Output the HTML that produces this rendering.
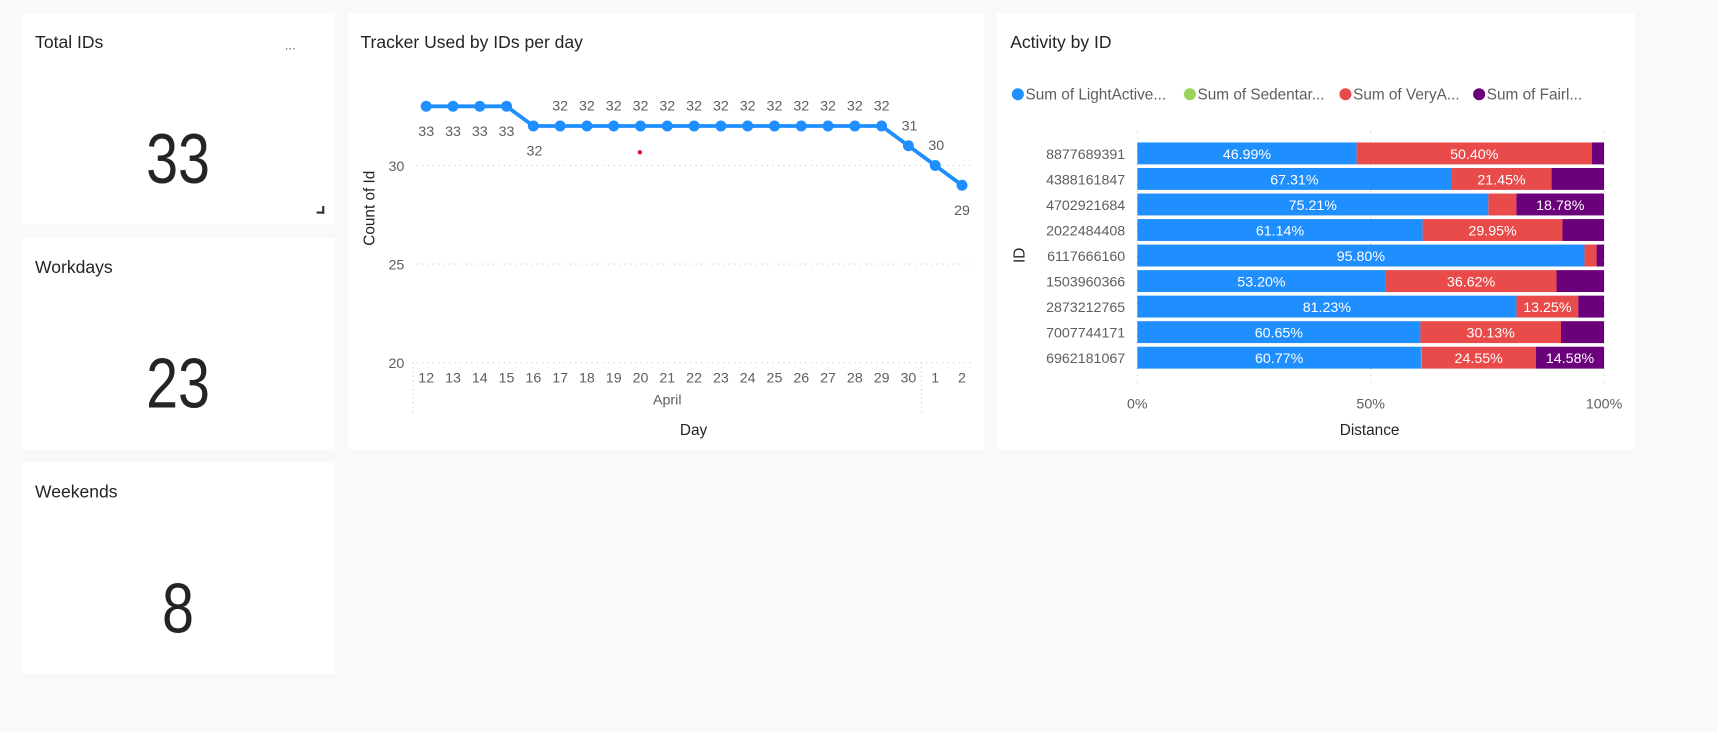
<!DOCTYPE html>
<html><head><meta charset="utf-8">
<style>
html,body{margin:0;padding:0;width:1718px;height:732px;overflow:hidden;background:#f9f9f9;font-family:"Liberation Sans",sans-serif;color:#252423}
#wrap{position:absolute;left:0;top:0;width:1568px;height:668px;transform-origin:0 0;transform:scale(1.09566,1.09581)}
.card{position:absolute;background:#fff}
.title{position:absolute;left:12px;top:19px;font-size:16px;color:#252423}
.big{position:absolute;left:0;width:100%;text-align:center;font-size:64px;font-weight:300;transform:scaleX(0.82)}
svg text{font-family:"Liberation Sans",sans-serif}
</style></head><body>
<div id="wrap">
<div class="card" style="left:20px;top:12px;width:285px;height:193px">
 <div class="title">Total IDs</div>
 <div style="position:absolute;left:240px;top:22px;font-size:12px;color:#666">...</div>
 <div class="big" style="top:96px">33</div>
 <div style="position:absolute;left:269px;top:176px;width:5px;height:5px;border-right:2px solid #333;border-bottom:2px solid #333"></div>
</div>
<div class="card" style="left:20px;top:217px;width:285px;height:193px">
 <div class="title">Workdays</div>
 <div class="big" style="top:96px">23</div>
</div>
<div class="card" style="left:20px;top:422px;width:285px;height:193px">
 <div class="title">Weekends</div>
 <div class="big" style="top:96px">8</div>
</div>
<div class="card" style="left:317px;top:12px;width:581px;height:398px">
 <div class="title">Tracker Used by IDs per day</div>
 <svg id="line" width="581" height="398" style="position:absolute;left:0;top:0"></svg>
</div>
<div class="card" style="left:910px;top:12px;width:582px;height:398px">
 <div class="title">Activity by ID</div>
 <svg id="bar" width="582" height="398" style="position:absolute;left:0;top:0"></svg>
</div>
</div>
<script>
const days=["12","13","14","15","16","17","18","19","20","21","22","23","24","25","26","27","28","29","30","1","2"];
const counts=[33,33,33,33,32,32,32,32,32,32,32,32,32,32,32,32,32,32,31,30,29];
const yTicks=[20,25,30];
const ids=["8877689391","4388161847","4702921684","2022484408","6117666160","1503960366","2873212765","7007744171","6962181067"];
const lightPct=[46.99,67.31,75.21,61.14,95.80,53.20,81.23,60.65,60.77];
const sedPct=[0,0,0,0,0,0,0,0,0.1];
const veryPct=[50.40,21.45,6.01,29.95,2.6,36.62,13.25,30.13,24.55];
const fairPct=[2.61,11.24,18.78,8.91,1.6,10.18,5.52,9.22,14.58];
const xTicks=[0,50,100];
const NS="http://www.w3.org/2000/svg";
function mk(svg,tag,attrs,txt){const e=document.createElementNS(NS,tag);for(const k in attrs)e.setAttribute(k,attrs[k]);if(txt!==undefined)e.textContent=txt;svg.appendChild(e);return e;}
// line chart (card-local coords; card at 317,12)
const L=document.getElementById('line');
const ox=317,oy=12;
const xs=i=>389-ox+i*24.45;
const ys=v=>151-oy+(30-v)*18;
yTicks.forEach(t=>{
 const g=mk(L,'line',{x1:380-ox,x2:888-ox,y1:ys(t),y2:ys(t),stroke:'#c8c8c8','stroke-dasharray':'1 4'});
 
 const tx=mk(L,'text',{x:369-ox,y:ys(t)+5,'text-anchor':'end','font-size':13,fill:'#605e5c'},t);
 
});
[377,841].forEach(x=>{const s=mk(L,'line',{x1:x-ox,x2:x-ox,y1:331-oy,y2:377-oy,stroke:'#c8c8c8','stroke-dasharray':'1 3'});});
days.forEach((d,i)=>{const t=mk(L,'text',{x:xs(i),y:349-oy,'text-anchor':'middle','font-size':13,fill:'#605e5c'},d);});
let a=mk(L,'text',{x:609-ox,y:369-oy,'text-anchor':'middle','font-size':13,fill:'#605e5c'},'April');
a=mk(L,'text',{x:633-ox,y:397-oy,'text-anchor':'middle','font-size':14,fill:'#252423'},'Day');
a=mk(L,'text',{x:0,y:0,'text-anchor':'middle','font-size':14,fill:'#252423',transform:`translate(${342-ox},${190-oy}) rotate(-90)`},'Count of Id');
const pl=mk(L,'polyline',{points:counts.map((v,i)=>xs(i)+','+ys(v)).join(' '),fill:'none',stroke:'#1f8fff','stroke-width':3.5});

counts.forEach((v,i)=>{
 const c=mk(L,'circle',{cx:xs(i),cy:ys(v),r:5,fill:'#1f8fff'});
 
 const prev=i>0?counts[i-1]:v;
 let lx=xs(i),ly;
 if(v<prev&&i<counts.length-1){lx=xs(i)+1;ly=ys(v)-14;}
 else if(i===counts.length-1){ly=ys(v)+27;}
 else if(i>0&&v===prev&&v===32){ly=ys(v)-14;}
 else{ly=ys(v)+27;}
 if(i===4)ly=ys(v)+27;
 const t=mk(L,'text',{x:lx,y:ly,'text-anchor':'middle','font-size':13,fill:'#605e5c'},v);
 
});
a=mk(L,'circle',{cx:584-ox,cy:139-oy,r:2,fill:'#e81123'});
// bar chart (card at 910,12)
const B=document.getElementById('bar');
const bx=910,by=12;
const xb=p=>1038-bx+p*4.26;
const rowY=i=>140-by+i*23.3;
const colors=['#1f8fff','#9bd35a','#e94b4b','#6b007b'];
const legend=['Sum of LightActive...','Sum of Sedentar...','Sum of VeryA...','Sum of Fairl...'];
const lx=[929,1086,1228,1350];
legend.forEach((s,i)=>{
 const c=mk(B,'circle',{cx:lx[i]-bx,cy:86-by,r:5.5,fill:colors[i]});
 const t=mk(B,'text',{x:lx[i]-bx+7,y:91-by,'font-size':14,fill:'#605e5c'},s);
});
xTicks.forEach(t=>{
 const g=mk(B,'line',{x1:xb(t),x2:xb(t),y1:120-by,y2:352-by,stroke:'#c8c8c8','stroke-dasharray':'1 5'});
 const tx=mk(B,'text',{x:xb(t),y:373-by,'text-anchor':'middle','font-size':13,fill:'#605e5c'},t+'%');
});
a=mk(B,'text',{x:1250-bx,y:397-by,'text-anchor':'middle','font-size':14,fill:'#252423'},'Distance');
a=mk(B,'text',{x:0,y:0,'text-anchor':'middle','font-size':14,fill:'#252423',transform:`translate(${935-bx},${233-by}) rotate(-90)`},'ID');
ids.forEach((id,i)=>{
 const cy=rowY(i);
 const t=mk(B,'text',{x:1027-bx,y:cy+5,'text-anchor':'end','font-size':13,fill:'#605e5c'},id);
 const segs=[lightPct[i],sedPct[i],veryPct[i],fairPct[i]];
 let acc=0;
 segs.forEach((p,k)=>{
  const r=mk(B,'rect',{x:xb(acc),y:cy-10,width:Math.max(0,xb(acc+p)-xb(acc)),height:20,fill:colors[k]});
  
  if(p>=12){const l=mk(B,'text',{x:(xb(acc)+xb(acc+p))/2,y:cy+5,'text-anchor':'middle','font-size':13,fill:'#fff'},p.toFixed(2)+'%');}
  acc+=p;
 });
});
</script>
</body></html>
